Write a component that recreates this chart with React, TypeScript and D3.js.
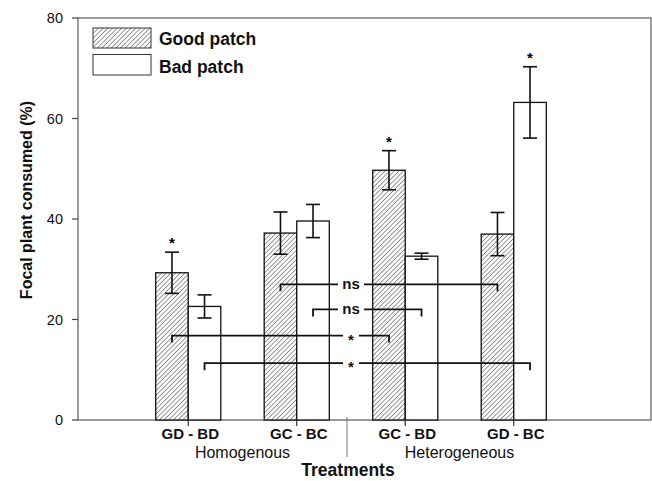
import React from 'react';
import { scaleBand, scaleLinear } from 'd3';

// data
const groups = ['GD - BD', 'GC - BC', 'GC - BD', 'GD - BC'];
const goodMeans = [29.3, 37.2, 49.7, 37.0];
const goodErr = [4.1, 4.2, 3.9, 4.3];
const badMeans = [22.6, 39.6, 32.6, 63.2];
const badErr = [2.3, 3.3, 0.6, 7.1];
const goodStar = [true, false, true, false];
const badStar = [false, false, false, true];
const yTicks = [0, 20, 40, 60, 80];
const treatmentLabels = ['Homogenous', 'Heterogeneous'];

// comparisons: [group, series] -> [group, series], at height y
const brackets = [
  { a: [1, 'good'], b: [3, 'good'], y: 27, label: 'ns' },
  { a: [1, 'bad'], b: [2, 'bad'], y: 22, label: 'ns' },
  { a: [0, 'good'], b: [2, 'good'], y: 16.8, label: '*' },
  { a: [0, 'bad'], b: [3, 'bad'], y: 11.3, label: '*' },
];

const W = 652;
const H = 481;
const left = 78;
const right = 651;
const top = 18;
const bottom = 420;
const font = '"Liberation Sans", Arial, sans-serif';

const App: React.FC = () => {
  const y = scaleLinear().domain([0, 80]).range([bottom, top]);
  const x = scaleBand<string>().domain(groups).range([134, 568]).paddingInner(0.4).paddingOuter(0.2);
  const bw = x.bandwidth() / 2;
  const center = (i: number) => (x(groups[i]) as number) + bw;
  const barX = (i: number, s: string) => (s === 'good' ? center(i) - bw / 2 : center(i) + bw / 2);
  const midX = (center(1) + center(2)) / 2;

  const errorBar = (cx: number, m: number, e: number, key: string) => (
    <g key={key} stroke="#111" strokeWidth={1.6}>
      <line x1={cx} x2={cx} y1={y(m + e)} y2={y(m - e)} />
      <line x1={cx - 7} x2={cx + 7} y1={y(m + e)} y2={y(m + e)} />
      <line x1={cx - 7} x2={cx + 7} y1={y(m - e)} y2={y(m - e)} />
    </g>
  );

  return (
    <svg width={W} height={H} style={{ position: 'absolute', left: 0, top: 0, background: '#fff' }} fontFamily={font}>
      <defs>
        <pattern id="hatch" patternUnits="userSpaceOnUse" width={3.3} height={3.3} patternTransform="rotate(45)">
          <rect width={3.3} height={3.3} fill="#fff" />
          <line x1={0} y1={0} x2={0} y2={3.3} stroke="#333" strokeWidth={1} />
        </pattern>
      </defs>

      {/* frame */}
      <rect x={left} y={top} width={right - left} height={bottom - top} fill="none" stroke="#666" strokeWidth={1.3} />

      {/* y axis */}
      {yTicks.map(t => (
        <g key={t}>
          <line x1={left - 6} x2={left} y1={y(t)} y2={y(t)} stroke="#444" strokeWidth={1.2} />
          <text x={left - 15} y={y(t) + 5} textAnchor="end" fontSize={14.5} fill="#111">{t}</text>
        </g>
      ))}
      <text transform="translate(32, 200) rotate(-90)" textAnchor="middle" fontSize={16} fontWeight="bold" fill="#111">
        Focal plant consumed (%)
      </text>

      {/* bars */}
      {groups.map((g, i) => (
        <g key={g}>
          <rect x={barX(i, 'good') - bw / 2} y={y(goodMeans[i])} width={bw} height={bottom - y(goodMeans[i])} fill="url(#hatch)" stroke="#111" strokeWidth={1.3} />
          <rect x={barX(i, 'bad') - bw / 2} y={y(badMeans[i])} width={bw} height={bottom - y(badMeans[i])} fill="#fff" stroke="#111" strokeWidth={1.3} />
          {errorBar(barX(i, 'good'), goodMeans[i], goodErr[i], 'eg')}
          {errorBar(barX(i, 'bad'), badMeans[i], badErr[i], 'eb')}
          {goodStar[i] && (
            <text x={barX(i, 'good')} y={y(goodMeans[i] + goodErr[i]) - 4} textAnchor="middle" fontSize={15} fontWeight="bold">*</text>
          )}
          {badStar[i] && (
            <text x={barX(i, 'bad')} y={y(badMeans[i] + badErr[i]) - 4} textAnchor="middle" fontSize={15} fontWeight="bold">*</text>
          )}
          <line x1={center(i)} x2={center(i)} y1={bottom} y2={bottom + 6} stroke="#333" strokeWidth={1.2} />
          <text x={center(i) + 2} y={bottom + 19} textAnchor="middle" fontSize={15} fontWeight="bold" fill="#111">{g}</text>
        </g>
      ))}

      {/* comparison brackets */}
      {brackets.map((b, k) => {
        const x1 = barX(b.a[0] as number, b.a[1] as string);
        const x2 = barX(b.b[0] as number, b.b[1] as string);
        const yy = y(b.y);
        const gap = b.label === 'ns' ? 13 : 8;
        return (
          <g key={k} stroke="#111" strokeWidth={1.8} fill="none">
            <path d={`M${x1},${yy + 7}V${yy}H${midX - gap}`} />
            <path d={`M${midX + gap},${yy}H${x2}V${yy + 7}`} />
            <text x={midX} y={yy + (b.label === 'ns' ? 5 : 9)} textAnchor="middle" fontSize={15} fontWeight="bold" fill="#111" stroke="none">
              {b.label}
            </text>
          </g>
        );
      })}

      {/* treatment grouping */}
      <line x1={midX - 4} x2={midX - 4} y1={bottom - 3} y2={bottom + 37} stroke="#777" strokeWidth={1} />
      <text x={(center(0) + center(1)) / 2} y={bottom + 38} textAnchor="middle" fontSize={16} fill="#111">{treatmentLabels[0]}</text>
      <text x={(center(2) + center(3)) / 2} y={bottom + 38} textAnchor="middle" fontSize={16} fill="#111">{treatmentLabels[1]}</text>
      <text x={midX - 3} y={bottom + 56} textAnchor="middle" fontSize={17.5} fontWeight="bold" fill="#111">Treatments</text>

      {/* legend */}
      <rect x={93} y={28} width={58} height={20} fill="url(#hatch)" stroke="#333" strokeWidth={1} />
      <text x={159} y={45} fontSize={17.5} fontWeight="bold" fill="#111">Good patch</text>
      <rect x={93} y={54.5} width={58} height={20.5} fill="#fff" stroke="#333" strokeWidth={1} />
      <text x={159} y={72.5} fontSize={17.5} fontWeight="bold" fill="#111">Bad patch</text>
    </svg>
  );
};

export default App;
